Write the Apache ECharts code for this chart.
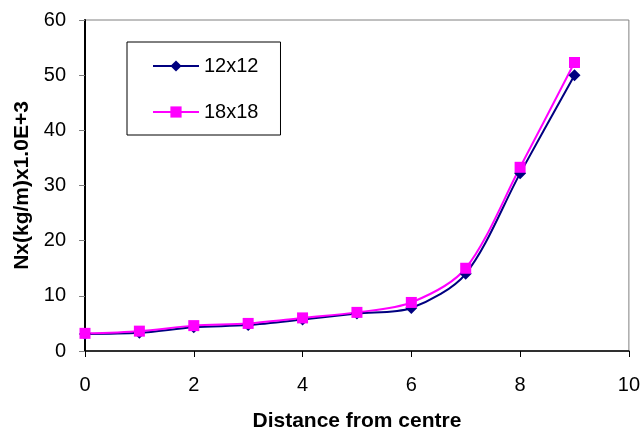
<!DOCTYPE html>
<html>
<head>
<meta charset="utf-8">
<script src="https://cdn.jsdelivr.net/npm/echarts@6/dist/echarts.min.js"></script>
<style>html,body{margin:0;padding:0;background:#fff}#c{width:643px;height:443px}</style>
</head>
<body>
<div id="c"></div>
<script>
var xValues = [0, 1, 2, 3, 4, 5, 6, 7, 8, 9];
var series12 = [3.1, 3.3, 4.3, 4.7, 5.7, 6.8, 7.8, 14.0, 32.2, 50.0];
var series18 = [3.2, 3.6, 4.6, 5.0, 6.0, 7.0, 8.8, 15.0, 33.3, 52.3];
var seriesNames = ['12x12', '18x18'];
var xTicks = {min: 0, max: 10, interval: 2};
var yTicks = {min: 0, max: 60, interval: 10};
var xTitle = 'Distance from centre';
var yTitle = 'Nx(kg/m)x1.0E+3';

function pairs(xs, ys) { return xs.map(function (x, i) { return [x, ys[i]]; }); }

var chart = echarts.init(document.getElementById('c'), null, {renderer: 'canvas'});
var font = 'Liberation Sans, Arial, sans-serif';
chart.setOption({
  animation: false,
  backgroundColor: '#fff',
  grid: {left: 85, right: 13, top: 20, bottom: 92, show: true, borderColor: '#808080', borderWidth: 1, backgroundColor: 'transparent'},
  legend: {
    orient: 'vertical', left: 127, top: 42,
    borderColor: '#000', borderWidth: 1,
    padding: [14, 22, 13, 25],
    itemGap: 26, itemWidth: 46, itemHeight: 14,
    textStyle: {fontFamily: font, fontSize: 20, color: '#000'},
    data: seriesNames
  },
  xAxis: {
    type: 'value', min: xTicks.min, max: xTicks.max, interval: xTicks.interval,
    name: xTitle, nameLocation: 'middle', nameGap: 60,
    nameTextStyle: {fontFamily: font, fontSize: 21, fontWeight: 'bold', color: '#000'},
    axisLine: {show: true, lineStyle: {color: '#000', width: 1.5}},
    axisTick: {show: true, length: 6, lineStyle: {color: '#000'}},
    axisLabel: {fontFamily: font, fontSize: 20, color: '#000', margin: 24},
    splitLine: {show: false}
  },
  yAxis: {
    type: 'value', min: yTicks.min, max: yTicks.max, interval: yTicks.interval,
    name: yTitle, nameLocation: 'middle', nameGap: 49,
    nameTextStyle: {fontFamily: font, fontSize: 21, fontWeight: 'bold', color: '#000'},
    axisLine: {show: true, lineStyle: {color: '#000', width: 2}},
    axisTick: {show: true, length: 6, lineStyle: {color: '#808080'}},
    axisLabel: {fontFamily: font, fontSize: 20, color: '#000', margin: 19},
    splitLine: {show: false}
  },
  series: [
    {
      name: seriesNames[0], type: 'line', data: pairs(xValues, series12),
      smooth: 0.3, symbol: 'diamond', symbolSize: 12, showAllSymbol: true,
      lineStyle: {color: '#000080', width: 2}, itemStyle: {color: '#000080'}
    },
    {
      name: seriesNames[1], type: 'line', data: pairs(xValues, series18),
      smooth: 0.3, symbol: 'rect', symbolSize: 11, showAllSymbol: true,
      lineStyle: {color: '#FF00FF', width: 2}, itemStyle: {color: '#FF00FF'}
    }
  ]
});
</script>
</body>
</html>
